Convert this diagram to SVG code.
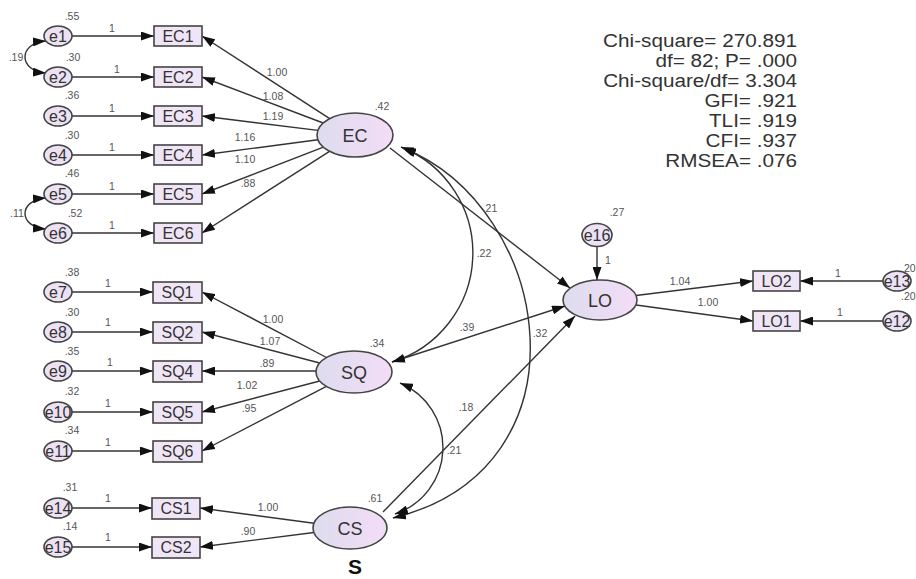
<svg xmlns="http://www.w3.org/2000/svg" width="916" height="579" viewBox="0 0 916 579">
<defs>
<linearGradient id="lat" x1="0" y1="0" x2="1" y2="0">
<stop offset="0" stop-color="#dedcee"/>
<stop offset="1" stop-color="#f3ddf6"/>
</linearGradient>
<marker id="ah" viewBox="0 0 13 9" refX="13" refY="4.5" markerWidth="13" markerHeight="9" markerUnits="userSpaceOnUse" orient="auto-start-reverse">
<path d="M0,0 L13,4.5 L0,9 z" fill="#111"/>
</marker>
<style>
.box{fill:#efe5f6;stroke:#444;stroke-width:1.6}
.err{fill:#ece2f4;stroke:#444;stroke-width:1.6}
.lat{fill:url(#lat);stroke:#444;stroke-width:1.6}
.ln{fill:none;stroke:#333;stroke-width:1.4;marker-end:url(#ah)}
.cv{fill:none;stroke:#333;stroke-width:1.4;marker-start:url(#ah);marker-end:url(#ah)}
.nt{font-family:"Liberation Sans",Arial,sans-serif;font-size:16px;fill:#333;text-anchor:middle}
.et{font-family:"Liberation Sans",Arial,sans-serif;font-size:16px;fill:#333;text-anchor:middle}
.lt{font-family:"Liberation Sans",Arial,sans-serif;font-size:18px;fill:#333;text-anchor:middle}
.sm{font-family:"Liberation Sans",Arial,sans-serif;font-size:10.5px;fill:#555;text-anchor:middle}
.fit{font-family:"Liberation Sans",Arial,sans-serif;font-size:19px;fill:#333;text-anchor:end}
</style>
</defs>
<rect width="916" height="579" fill="#fff"/>

<g id="connectors">
<line class="ln" x1="72" y1="36" x2="154" y2="36"/>
<line class="ln" x1="72" y1="77" x2="154" y2="77"/>
<line class="ln" x1="72" y1="116" x2="154" y2="116"/>
<line class="ln" x1="72" y1="155" x2="154" y2="155"/>
<line class="ln" x1="72" y1="194" x2="154" y2="194"/>
<line class="ln" x1="72" y1="233" x2="154" y2="233"/>
<line class="ln" x1="72" y1="292" x2="153" y2="292"/>
<line class="ln" x1="72" y1="332" x2="153" y2="332"/>
<line class="ln" x1="72" y1="371" x2="153" y2="371"/>
<line class="ln" x1="72" y1="412" x2="153" y2="412"/>
<line class="ln" x1="72" y1="451" x2="153" y2="451"/>
<line class="ln" x1="72" y1="508" x2="152" y2="508"/>
<line class="ln" x1="72" y1="547" x2="152" y2="547"/>
<line class="ln" x1="883" y1="281" x2="800" y2="281"/>
<line class="ln" x1="883" y1="321" x2="800" y2="321"/>
<line class="ln" x1="597" y1="246" x2="597" y2="280"/>
<path class="cv" d="M46,41 C18,43 18,71 46,73"/>
<path class="cv" d="M46,198 C18,200 18,227 46,229"/>
<line class="ln" x1="329.7" y1="118.6" x2="202" y2="36"/>
<line class="ln" x1="323.2" y1="123" x2="202" y2="77"/>
<line class="ln" x1="317.9" y1="130.4" x2="202" y2="116"/>
<line class="ln" x1="317.9" y1="139.8" x2="202" y2="155"/>
<line class="ln" x1="323.4" y1="147.2" x2="202" y2="194"/>
<line class="ln" x1="329.5" y1="151.3" x2="202" y2="233"/>
<line class="ln" x1="326.5" y1="357.5" x2="202" y2="292"/>
<line class="ln" x1="319.7" y1="363" x2="202" y2="332"/>
<line class="ln" x1="316" y1="371" x2="202" y2="371"/>
<line class="ln" x1="319.7" y1="381" x2="202" y2="412"/>
<line class="ln" x1="326.4" y1="386.3" x2="202" y2="451"/>
<line class="ln" x1="314" y1="523.2" x2="200" y2="508"/>
<line class="ln" x1="313.9" y1="532.5" x2="200" y2="547"/>
<line class="ln" x1="636" y1="295.5" x2="753" y2="281"/>
<line class="ln" x1="636" y1="305" x2="753" y2="321"/>
<line class="ln" x1="390" y1="148" x2="570" y2="288"/>
<line class="ln" x1="392" y1="362" x2="565" y2="306"/>
<line class="ln" x1="383" y1="512" x2="575" y2="316"/>
<path class="cv" d="M401,147 A114 114 0 0 1 392,362"/>
<path class="cv" d="M403,148 C553,208 595,468 393,518"/>
<path class="cv" d="M400,383 A70 70 0 0 1 395,514"/>
</g>

<g id="e1"><ellipse class="err" cx="58" cy="36" rx="14" ry="10"/><text class="et" x="58" y="42">e1</text></g>
<g id="e2"><ellipse class="err" cx="58" cy="77" rx="14" ry="10"/><text class="et" x="58" y="83">e2</text></g>
<g id="e3"><ellipse class="err" cx="58" cy="116" rx="14" ry="10"/><text class="et" x="58" y="122">e3</text></g>
<g id="e4"><ellipse class="err" cx="58" cy="155" rx="14" ry="10"/><text class="et" x="58" y="161">e4</text></g>
<g id="e5"><ellipse class="err" cx="58" cy="194" rx="14" ry="10"/><text class="et" x="58" y="200">e5</text></g>
<g id="e6"><ellipse class="err" cx="58" cy="233" rx="14" ry="10"/><text class="et" x="58" y="239">e6</text></g>
<g id="e7"><ellipse class="err" cx="58" cy="292" rx="14" ry="10"/><text class="et" x="58" y="298">e7</text></g>
<g id="e8"><ellipse class="err" cx="58" cy="332" rx="14" ry="10"/><text class="et" x="58" y="338">e8</text></g>
<g id="e9"><ellipse class="err" cx="58" cy="371" rx="14" ry="10"/><text class="et" x="58" y="377">e9</text></g>
<g id="e10"><ellipse class="err" cx="58" cy="412" rx="14" ry="10"/><text class="et" x="58" y="418">e10</text></g>
<g id="e11"><ellipse class="err" cx="58" cy="451" rx="14" ry="10"/><text class="et" x="58" y="457">e11</text></g>
<g id="e14"><ellipse class="err" cx="58" cy="508" rx="14" ry="10"/><text class="et" x="58" y="514">e14</text></g>
<g id="e15"><ellipse class="err" cx="58" cy="547" rx="14" ry="10"/><text class="et" x="58" y="553">e15</text></g>
<g id="e16"><ellipse class="err" cx="597" cy="235" rx="15" ry="11.5"/><text class="et" x="597" y="241">e16</text></g>
<g id="e13"><ellipse class="err" cx="897" cy="281" rx="14" ry="10"/><text class="et" x="897" y="287">e13</text></g>
<g id="e12"><ellipse class="err" cx="897" cy="321" rx="14" ry="10"/><text class="et" x="897" y="327">e12</text></g>

<g id="EC1"><rect class="box" x="154" y="26" width="48" height="20"/><text class="nt" x="178" y="42">EC1</text></g>
<g id="EC2"><rect class="box" x="154" y="67" width="48" height="20"/><text class="nt" x="178" y="83">EC2</text></g>
<g id="EC3"><rect class="box" x="154" y="106" width="48" height="20"/><text class="nt" x="178" y="122">EC3</text></g>
<g id="EC4"><rect class="box" x="154" y="145" width="48" height="20"/><text class="nt" x="178" y="161">EC4</text></g>
<g id="EC5"><rect class="box" x="154" y="184" width="48" height="20"/><text class="nt" x="178" y="200">EC5</text></g>
<g id="EC6"><rect class="box" x="154" y="223" width="48" height="20"/><text class="nt" x="178" y="239">EC6</text></g>
<g id="SQ1"><rect class="box" x="153" y="282" width="49" height="21"/><text class="nt" x="177.5" y="298">SQ1</text></g>
<g id="SQ2"><rect class="box" x="153" y="322" width="49" height="21"/><text class="nt" x="177.5" y="338">SQ2</text></g>
<g id="SQ4"><rect class="box" x="153" y="361" width="49" height="21"/><text class="nt" x="177.5" y="377">SQ4</text></g>
<g id="SQ5"><rect class="box" x="153" y="402" width="49" height="21"/><text class="nt" x="177.5" y="418">SQ5</text></g>
<g id="SQ6"><rect class="box" x="153" y="441" width="49" height="21"/><text class="nt" x="177.5" y="457">SQ6</text></g>
<g id="CS1"><rect class="box" x="152" y="498" width="48" height="21"/><text class="nt" x="176" y="514">CS1</text></g>
<g id="CS2"><rect class="box" x="152" y="537" width="48" height="21"/><text class="nt" x="176" y="553">CS2</text></g>
<g id="LO2"><rect class="box" x="753" y="271" width="47" height="20"/><text class="nt" x="776.5" y="287">LO2</text></g>
<g id="LO1"><rect class="box" x="753" y="311" width="47" height="20"/><text class="nt" x="776.5" y="327">LO1</text></g>

<g id="EC"><ellipse class="lat" cx="355" cy="135" rx="38" ry="22"/><text class="lt" x="355" y="141.5">EC</text></g>
<g id="SQ"><ellipse class="lat" cx="354" cy="372" rx="38" ry="21"/><text class="lt" x="354" y="378.5">SQ</text></g>
<g id="CS"><ellipse class="lat" cx="350" cy="528" rx="37" ry="21"/><text class="lt" x="350" y="534.5">CS</text></g>
<g id="LO"><ellipse class="lat" cx="600" cy="300" rx="37" ry="20"/><text class="lt" x="600" y="306.5">LO</text></g>

<g id="labels">
<text class="sm" x="72" y="20">.55</text>
<text class="sm" x="73" y="61">.30</text>
<text class="sm" x="72" y="99">.36</text>
<text class="sm" x="72" y="139">.30</text>
<text class="sm" x="72" y="177">.46</text>
<text class="sm" x="75" y="217">.52</text>
<text class="sm" x="72" y="276">.38</text>
<text class="sm" x="72" y="316">.30</text>
<text class="sm" x="72" y="355">.35</text>
<text class="sm" x="72" y="395">.32</text>
<text class="sm" x="72" y="434">.34</text>
<text class="sm" x="70" y="491">.31</text>
<text class="sm" x="70" y="530">.14</text>
<text class="sm" x="16" y="61">.19</text>
<text class="sm" x="17" y="217">.11</text>
<text class="sm" x="112" y="31.5">1</text>
<text class="sm" x="117" y="72.5">1</text>
<text class="sm" x="112" y="111.5">1</text>
<text class="sm" x="112" y="150.5">1</text>
<text class="sm" x="112" y="189.5">1</text>
<text class="sm" x="112" y="228.5">1</text>
<text class="sm" x="108" y="287">1</text>
<text class="sm" x="108" y="326">1</text>
<text class="sm" x="110" y="366">1</text>
<text class="sm" x="108" y="407">1</text>
<text class="sm" x="108" y="446">1</text>
<text class="sm" x="108" y="502">1</text>
<text class="sm" x="108" y="541">1</text>
<text class="sm" x="277" y="76">1.00</text>
<text class="sm" x="273" y="100">1.08</text>
<text class="sm" x="273" y="120">1.19</text>
<text class="sm" x="245" y="141">1.16</text>
<text class="sm" x="245" y="163">1.10</text>
<text class="sm" x="248" y="187">.88</text>
<text class="sm" x="273" y="323">1.00</text>
<text class="sm" x="270" y="345">1.07</text>
<text class="sm" x="267" y="367">.89</text>
<text class="sm" x="247" y="389">1.02</text>
<text class="sm" x="249" y="412">.95</text>
<text class="sm" x="268" y="511">1.00</text>
<text class="sm" x="248" y="535">.90</text>
<text class="sm" x="382" y="110">.42</text>
<text class="sm" x="377" y="347">.34</text>
<text class="sm" x="375" y="502">.61</text>
<text class="sm" x="617" y="216">.27</text>
<text class="sm" x="608" y="264">1</text>
<text class="sm" x="490" y="212">.21</text>
<text class="sm" x="484" y="257">.22</text>
<text class="sm" x="467" y="331">.39</text>
<text class="sm" x="540" y="337">.32</text>
<text class="sm" x="466" y="411">.18</text>
<text class="sm" x="454" y="454">.21</text>
<text class="sm" x="680" y="285">1.04</text>
<text class="sm" x="708" y="306">1.00</text>
<text class="sm" x="838" y="277">1</text>
<text class="sm" x="840" y="316">1</text>
<text class="sm" x="901" y="272" style="text-anchor:start">.20</text>
<text class="sm" x="901" y="300" style="text-anchor:start">.20</text>
</g>

<g id="fit" transform="translate(797 0) scale(1.09 1)">
<text class="fit" x="0" y="47">Chi-square= 270.891</text>
<text class="fit" x="0" y="67">df= 82; P= .000</text>
<text class="fit" x="0" y="87">Chi-square/df= 3.304</text>
<text class="fit" x="0" y="107">GFI= .921</text>
<text class="fit" x="0" y="127">TLI= .919</text>
<text class="fit" x="0" y="147">CFI= .937</text>
<text class="fit" x="0" y="167">RMSEA= .076</text>
</g>

<text x="355" y="574" style="font-family:'Liberation Sans',Arial,sans-serif;font-size:21px;font-weight:bold;fill:#111;text-anchor:middle">S</text>
</svg>
